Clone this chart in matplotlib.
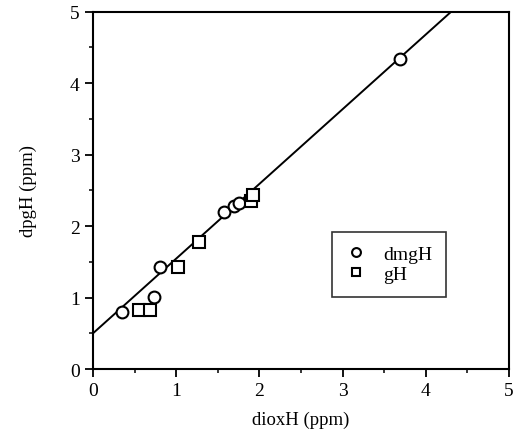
import numpy as np
import matplotlib.pyplot as plt
from matplotlib.ticker import MultipleLocator

plt.rcParams['font.family'] = ['Liberation Serif', 'DejaVu Serif']

# dmgH points (diox, dpg)
dmg_x = [0.35, 0.73, 0.80, 1.58, 1.70, 1.75, 3.69]
dmg_y = [0.80, 1.01, 1.43, 2.20, 2.28, 2.33, 4.34]

# gH points
g_x = [0.55, 0.68, 1.02, 1.27, 1.90, 1.92]
g_y = [0.82, 0.83, 1.43, 1.78, 2.35, 2.43]

# fitted line
intercept = 0.5
slope = 1.045

fig = plt.figure(figsize=(5.14, 4.31), dpi=100)
ax = fig.add_axes([0.181, 0.1415, 0.809, 0.829])

xl = np.linspace(0, 5, 200)
ax.plot(xl, intercept + slope * xl, color='black', lw=1.4)

ax.plot(dmg_x, dmg_y, 'o', mfc='white', mec='black', mew=1.5, ms=8.5, label='dmgH')
ax.plot(g_x, g_y, 's', mfc='white', mec='black', mew=1.5, ms=8, label='gH')

ax.set_xlim(0, 5)
ax.set_ylim(0, 5)
ax.xaxis.set_major_locator(MultipleLocator(1))
ax.xaxis.set_minor_locator(MultipleLocator(0.5))
ax.yaxis.set_major_locator(MultipleLocator(1))
ax.yaxis.set_minor_locator(MultipleLocator(0.5))
ax.tick_params(which='major', length=6, width=1.3, labelsize=14)
ax.tick_params(which='minor', length=3, width=1.1)
for s in ax.spines.values():
    s.set_linewidth(1.5)

ax.set_xlabel('dioxH (ppm)', fontsize=13.5, labelpad=8)
ax.set_ylabel('dpgH (ppm)', fontsize=13.5, labelpad=24)

leg = ax.legend(loc='upper left', bbox_to_anchor=(0.552, 0.412), fontsize=14,
                frameon=True, fancybox=False, edgecolor='black',
                handletextpad=0.9, borderpad=0.7, labelspacing=0.15,
                handlelength=1.0, markerscale=0.75)
leg.get_frame().set_linewidth(1.2)

plt.savefig('out.png', dpi=100)
